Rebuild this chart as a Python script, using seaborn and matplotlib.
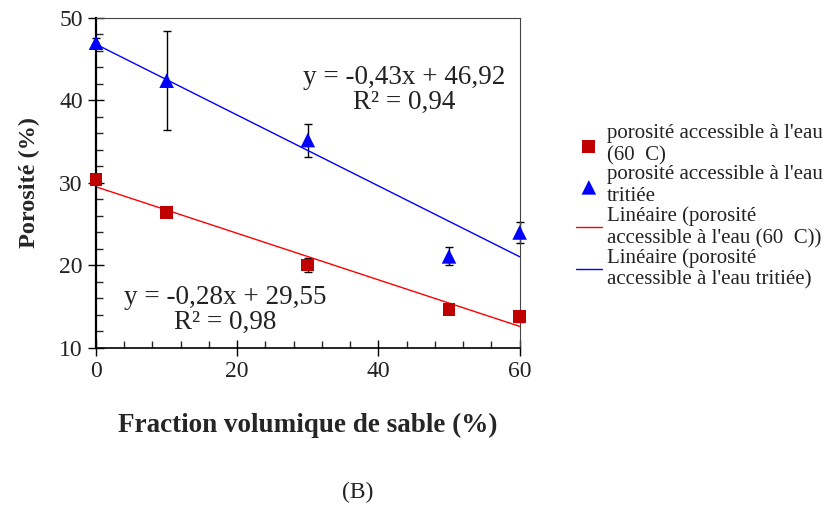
import matplotlib
matplotlib.use('Agg')
import matplotlib.pyplot as plt
import numpy as np
import pandas as pd
import seaborn as sns
from matplotlib.ticker import MultipleLocator

# Fraction volumique de sable (%)
sand = [0, 10, 30, 50, 60]

# porosité accessible à l'eau (60 C)
por_water = [30.4, 26.45, 20.05, 14.7, 13.8]
err_water = [0.5, 0.3, 0.85, 0.3, 0.6]

# porosité accessible à l'eau tritiée
por_trit = [47.0, 42.4, 35.2, 21.1, 24.0]
err_trit = [0.6, 6.0, 2.0, 1.1, 1.3]

lab_water = "porosité accessible à l'eau\n(60  C)"
lab_trit = "porosité accessible à l'eau\ntritiée"
lab_lin_water = "Linéaire (porosité\naccessible à l'eau (60  C))"
lab_lin_trit = "Linéaire (porosité\naccessible à l'eau tritiée)"

df = pd.DataFrame({'sand': sand, 'water': por_water, 'trit': por_trit})

sns.set_style('ticks')
plt.rcParams['font.family'] = ['Liberation Serif', 'DejaVu Serif']
plt.rcParams['text.color'] = '#222222'

fig = plt.figure(figsize=(8.29, 5.08), dpi=100)
ax = fig.add_axes([0.1158, 0.315, 0.511, 0.6496])

# error bars
ax.errorbar(sand, por_water, yerr=err_water, fmt='none', ecolor='black',
            elinewidth=1, capsize=3, zorder=2, clip_on=False)
ax.errorbar(sand, por_trit, yerr=err_trit, fmt='none', ecolor='black',
            elinewidth=1, capsize=3, zorder=2, clip_on=False)

# points
sns.scatterplot(data=df, x='sand', y='water', marker='s', color='#c00000', s=85,
                edgecolor='none', label=lab_water, ax=ax, zorder=3, clip_on=False)
sns.scatterplot(data=df, x='sand', y='trit', marker='^', color='#0000ff', s=110,
                edgecolor='none', label=lab_trit, ax=ax, zorder=3, clip_on=False)

# linear trendlines
sns.regplot(data=df, x='sand', y='water', scatter=False, ci=None, truncate=True,
            line_kws={'color': 'red', 'lw': 1}, ax=ax)
ax.lines[-1].set_label(lab_lin_water)
sns.regplot(data=df, x='sand', y='trit', scatter=False, ci=None, truncate=True,
            line_kws={'color': 'blue', 'lw': 1}, ax=ax)
ax.lines[-1].set_label(lab_lin_trit)

ax.text(43.6, 41.3, 'y = -0,43x + 46,92\nR² = 0,94', ha='center', va='center',
        fontsize=19.5, linespacing=1.0)
ax.text(18.3, 14.6, 'y = -0,28x + 29,55\nR² = 0,98', ha='center', va='center',
        fontsize=19.5, linespacing=1.0)

ax.set_xlim(0, 60)
ax.set_ylim(10, 50)
ax.xaxis.set_major_locator(MultipleLocator(20))
ax.xaxis.set_minor_locator(MultipleLocator(4))
ax.yaxis.set_major_locator(MultipleLocator(10))
ax.yaxis.set_minor_locator(MultipleLocator(2))
ax.tick_params(which='major', direction='inout', length=11, width=1, labelsize=17,
               colors='black', labelcolor='#222222', pad=4)
ax.tick_params(which='minor', direction='in', length=5, width=1)
for sp in ax.spines.values():
    sp.set_color('#444444')
    sp.set_linewidth(0.8)
ax.spines['left'].set_color('black')
ax.spines['left'].set_linewidth(1.6)
ax.spines['bottom'].set_color('black')
ax.spines['bottom'].set_linewidth(1.2)

ax.set_xlabel('Fraction volumique de sable (%)', fontsize=19.5, fontweight='bold', labelpad=22)
ax.set_ylabel('Porosité (%)', fontsize=17.5, fontweight='bold', labelpad=14)

h, l = ax.get_legend_handles_labels()
ax.legend(h, l, loc='upper left', bbox_to_anchor=(1.113, 0.703), frameon=False,
          fontsize=15, handlelength=1.25, handletextpad=0.25, labelspacing=0.0,
          borderaxespad=0, borderpad=0.4)

fig.text(0.432, 0.03, '(B)', ha='center', va='center', fontsize=17)

fig.savefig('out.png', dpi=100)
